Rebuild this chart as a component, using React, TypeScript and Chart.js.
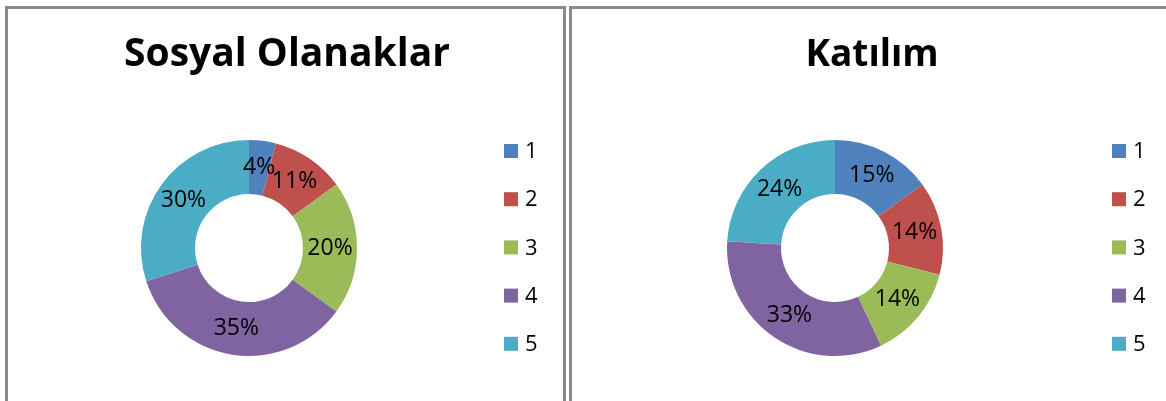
import React, { useEffect, useRef } from "react";
import { Chart, registerables } from "chart.js";

Chart.register(...registerables);

const categories = ["1", "2", "3", "4", "5"];
const sosyalValues = [4, 11, 20, 35, 30];
const katilimValues = [15, 14, 14, 33, 24];
const titles = ["Sosyal Olanaklar", "Katılım"];
const colors = ["#4F81BD", "#C0504D", "#9BBB59", "#8064A2", "#4BACC6"];

const FONT = "'Open Sans', 'Liberation Sans', sans-serif";

type PanelCfg = {
  title: string;
  values: number[];
  width: number;
  titleX: number;
  titleSize: number;
  legendX: number;
  padding: { left: number; right: number; top: number; bottom: number };
};

const overlayPlugin = {
  id: "overlay",
  afterDatasetsDraw(chart: any, _args: any, opts: any) {
    const ctx = chart.ctx;
    ctx.save();
    // percentage labels
    const meta = chart.getDatasetMeta(0);
    const data = chart.data.datasets[0].data as number[];
    const total = data.reduce((a, b) => a + b, 0);
    ctx.fillStyle = "#000";
    ctx.font = `23px ${FONT}`;
    ctx.textAlign = "center";
    ctx.textBaseline = "middle";
    meta.data.forEach((arc: any, i: number) => {
      const p = arc.getCenterPoint();
      ctx.fillText(Math.round((data[i] / total) * 100) + "%", p.x, p.y);
    });
    // title
    ctx.font = `bold ${opts.titleSize}px ${FONT}`;
    ctx.textBaseline = "alphabetic";
    ctx.fillText(opts.title, opts.titleX, 66);
    // legend
    ctx.textAlign = "left";
    ctx.textBaseline = "middle";
    ctx.font = `22px ${FONT}`;
    const labels = chart.data.labels as string[];
    labels.forEach((lab, i) => {
      const cy = 151 + i * 48.2;
      ctx.fillStyle = colors[i];
      ctx.fillRect(opts.legendX, cy - 7, 14, 14);
      ctx.fillStyle = "#000";
      ctx.fillText(lab, opts.legendX + 21, cy + 1);
    });
    ctx.restore();
  },
};

function Panel({ cfg }: { cfg: PanelCfg }) {
  const ref = useRef<HTMLCanvasElement>(null);
  useEffect(() => {
    if (!ref.current) return;
    const chart = new Chart(ref.current, {
      type: "doughnut",
      data: {
        labels: categories,
        datasets: [
          {
            data: cfg.values,
            backgroundColor: colors,
            borderWidth: 0,
          },
        ],
      },
      options: {
        responsive: false,
        animation: false,
        cutout: "50%",
        layout: { padding: cfg.padding },
        plugins: {
          legend: { display: false },
          tooltip: { enabled: false },
          overlay: {
            title: cfg.title,
            titleX: cfg.titleX,
            titleSize: cfg.titleSize,
            legendX: cfg.legendX,
          },
        } as any,
      },
      plugins: [overlayPlugin],
    });
    return () => chart.destroy();
  }, [cfg]);
  return <canvas ref={ref} width={cfg.width} height={401} />;
}

const panel1: PanelCfg = {
  title: titles[0],
  values: sosyalValues,
  width: 566,
  titleX: 287,
  titleSize: 39,
  legendX: 504,
  padding: { left: 141, right: 209, top: 140, bottom: 45 },
};
const panel2: PanelCfg = {
  title: titles[1],
  values: katilimValues,
  width: 600,
  titleX: 306,
  titleSize: 37,
  legendX: 546,
  padding: { left: 161, right: 223, top: 140, bottom: 45 },
};

export default function App() {
  const border = "#8a8a8a";
  return (
    <div
      style={{
        position: "absolute",
        left: 0,
        top: 0,
        width: 1166,
        height: 401,
        overflow: "hidden",
        background: "#fff",
      }}
    >
      <div style={{ position: "absolute", left: 0, top: 0 }}>
        <Panel cfg={panel1} />
      </div>
      <div style={{ position: "absolute", left: 566, top: 0 }}>
        <Panel cfg={panel2} />
      </div>
      <div
        style={{
          position: "absolute",
          left: 5,
          top: 6,
          width: 555,
          height: 420,
          borderLeft: `3px solid ${border}`,
          borderRight: `3px solid ${border}`,
          borderTop: `3px solid ${border}`,
        }}
      />
      <div
        style={{
          position: "absolute",
          left: 569,
          top: 6,
          width: 700,
          height: 420,
          borderLeft: `3px solid ${border}`,
          borderTop: `3px solid ${border}`,
        }}
      />
    </div>
  );
}
